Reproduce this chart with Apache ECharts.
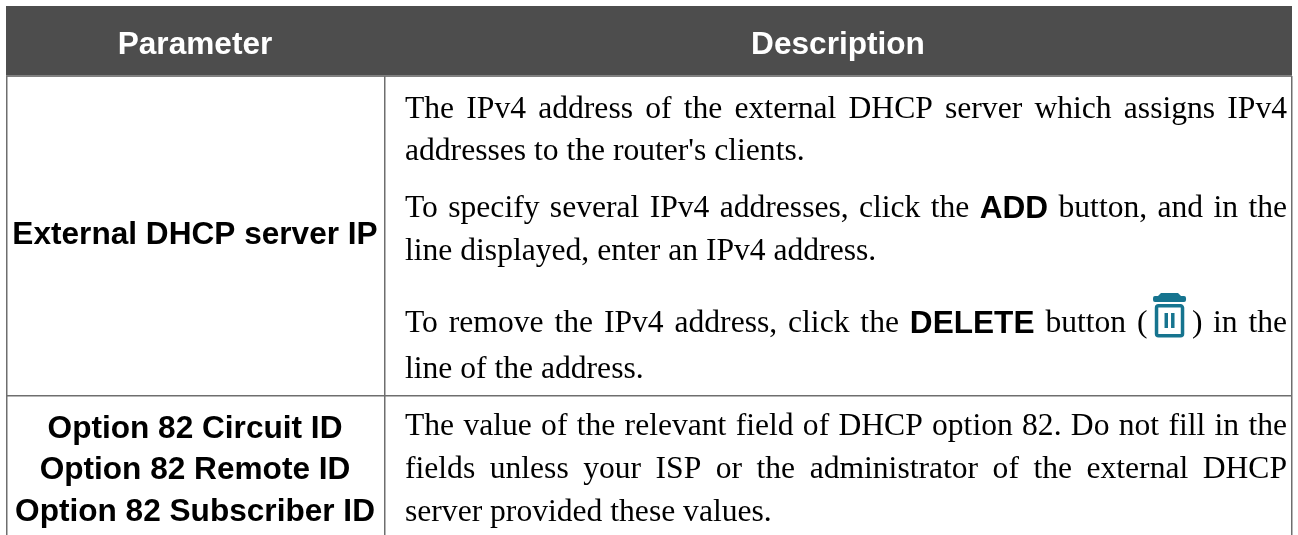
<!DOCTYPE html>
<html><head><meta charset="utf-8">
<style>html,body{margin:0;padding:0;background:#fff}#c{width:1298px;height:535px}</style>
<script src="https://cdn.jsdelivr.net/npm/echarts@6/dist/echarts.min.js"></script>
</head><body><div id="c"></div>
<script>
const headers = ['Parameter','Description'];
const row1Param = ['External DHCP server IP'];
const row2Param = ['Option 82 Circuit ID','Option 82 Remote ID','Option 82 Subscriber ID'];
const descText = [
 'The IPv4 address of the external DHCP server which assigns IPv4',
 'addresses to the router\'s clients.',
 'To specify several IPv4 addresses, click the *ADD button, and in the',
 'line displayed, enter an IPv4 address.',
 'To remove the IPv4 address, click the *DELETE button @ in the',
 'line of the address.',
 'The value of the relevant field of DHCP option 82. Do not fill in the',
 'fields unless your ISP or the administrator of the external DHCP',
 'server provided these values.'
];
const descBase = [117.5,160,217,260,332,378,435,478,521];
const descJustify = [1,0,1,0,1,0,1,1,0];
const SERIF='"Liberation Serif"', SANS='"Liberation Sans"';
const FS=31.6, L=405, R=1287, BO=8;
const cv=document.createElement('canvas').getContext('2d');
function w(t,f){cv.font=f;return cv.measureText(t).width;}
const chart=echarts.init(document.getElementById('c'));
const g=[];
function text(x,base,t,font,weight,fill,align){
 g.push({type:'text',x,y:base-BO,silent:true,style:{text:t,fontFamily:font,fontSize:FS,fontWeight:weight,fill,align:align||'left',verticalAlign:'middle'}});
}
function rect(x,y,wd,h,fill){g.push({type:'rect',silent:true,shape:{x,y,width:wd,height:h},style:{fill}});}
rect(6,6,1286,69,'#4d4d4d');
rect(6,75,1286,2,'#808080');
rect(6,76,1.5,460,'#6e6e6e');
rect(384,76,1.5,460,'#6e6e6e');
rect(1291,76,1.5,460,'#6e6e6e');
rect(6,395,1286,1.5,'#6e6e6e');
text(195,53,headers[0],SANS,'bold','#fff','center');
text(838,53,headers[1],SANS,'bold','#fff','center');
text(195,243,row1Param[0],SANS,'bold','#000','center');
[437,478,520].forEach((b,i)=>text(195,b,row2Param[i],SANS,'bold','#000','center'));
const TEAL='#16748f';
descText.forEach((line,i)=>{
 const y=descBase[i];
 const ws=line.split(' ');
 const ms=ws.map(p=>{
  if(p==='@')return 65;
  if(p[0]==='*')return w(p.slice(1),'bold '+FS+'px '+SANS);
  return w(p,FS+'px '+SERIF);
 });
 const tot=ms.reduce((a,b)=>a+b,0);
 const sp=descJustify[i]?(R-L-tot)/(ws.length-1):w(' ',FS+'px '+SERIF);
 let x=L;
 ws.forEach((p,k)=>{
  if(p==='@'){
    text(x,y,'(',SERIF,'normal','#000');
    text(x+55,y,')',SERIF,'normal','#000');
    g.push({type:'group',x:x+16,y:293,silent:true,children:[
      {type:'polygon',shape:{points:[[5,3],[8,0],[25,0],[28,3]]},style:{fill:TEAL}},
      {type:'rect',shape:{x:0,y:3,width:33,height:6,r:2},style:{fill:TEAL}},
      {type:'rect',shape:{x:3.5,y:12.8,width:26,height:30,r:2},style:{fill:'#fff',stroke:TEAL,lineWidth:3.5}},
      {type:'rect',shape:{x:11.5,y:20,width:3.5,height:15},style:{fill:TEAL}},
      {type:'rect',shape:{x:18,y:20,width:3.5,height:15},style:{fill:TEAL}}
    ]});
  } else if(p[0]==='*') text(x,y,p.slice(1),SANS,'bold','#000');
  else text(x,y,p,SERIF,'normal','#000');
  x+=ms[k]+sp;
 });
});
chart.setOption({animation:false,graphic:{elements:g}});
</script></body></html>
